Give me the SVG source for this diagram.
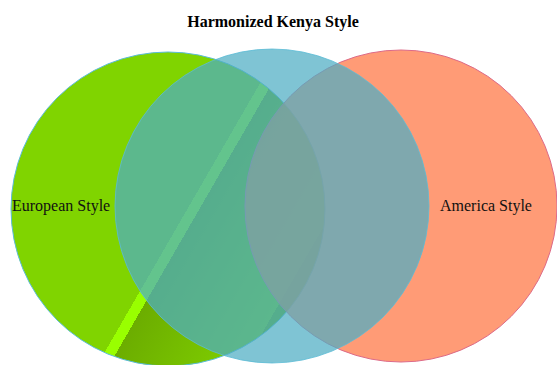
<svg xmlns="http://www.w3.org/2000/svg" width="557" height="365" viewBox="0 0 557 365">
  <style>
    .lbl { font-family: "Liberation Serif", "Times New Roman", serif; font-size: 16px; fill: #111; }
    .title { font-family: "Liberation Serif", "Times New Roman", serif; font-size: 16px; font-weight: bold; fill: #000; }
  </style>
  <defs>
    <linearGradient id="greenGloss" gradientUnits="userSpaceOnUse" x1="0" y1="0" x2="346.4" y2="200">
      <stop offset="0" stop-color="#80d400"/>
      <stop offset="0.667" stop-color="#80d400"/>
      <stop offset="0.667" stop-color="#99ff00"/>
      <stop offset="0.693" stop-color="#99ff00"/>
      <stop offset="0.693" stop-color="#6cad00"/>
      <stop offset="0.984" stop-color="#80d000"/>
      <stop offset="0.984" stop-color="#6aab00"/>
      <stop offset="1" stop-color="#6aab00"/>
    </linearGradient>
  </defs>
  <rect width="557" height="365" fill="#ffffff"/>
  <g id="european">
    <circle cx="168" cy="209" r="157" fill="url(#greenGloss)" stroke="#5bbcd6" stroke-width="1"/>
  </g>
  <g id="america">
    <circle cx="401" cy="206" r="156" fill="#ff7f50" fill-opacity="0.78" stroke="#dd6a88" stroke-width="1"/>
  </g>
  <g id="harmonized">
    <circle cx="272" cy="206" r="157" fill="#4dadc3" fill-opacity="0.72" stroke="#5bbcd6" stroke-width="1" stroke-opacity="0.8"/>
  </g>
  <g id="connectors"></g>
  <g id="labels">
    <text class="title" x="273" y="27" text-anchor="middle">Harmonized Kenya Style</text>
    <text class="lbl" x="12" y="211">European Style</text>
    <text class="lbl" x="440" y="211">America Style</text>
  </g>
</svg>
